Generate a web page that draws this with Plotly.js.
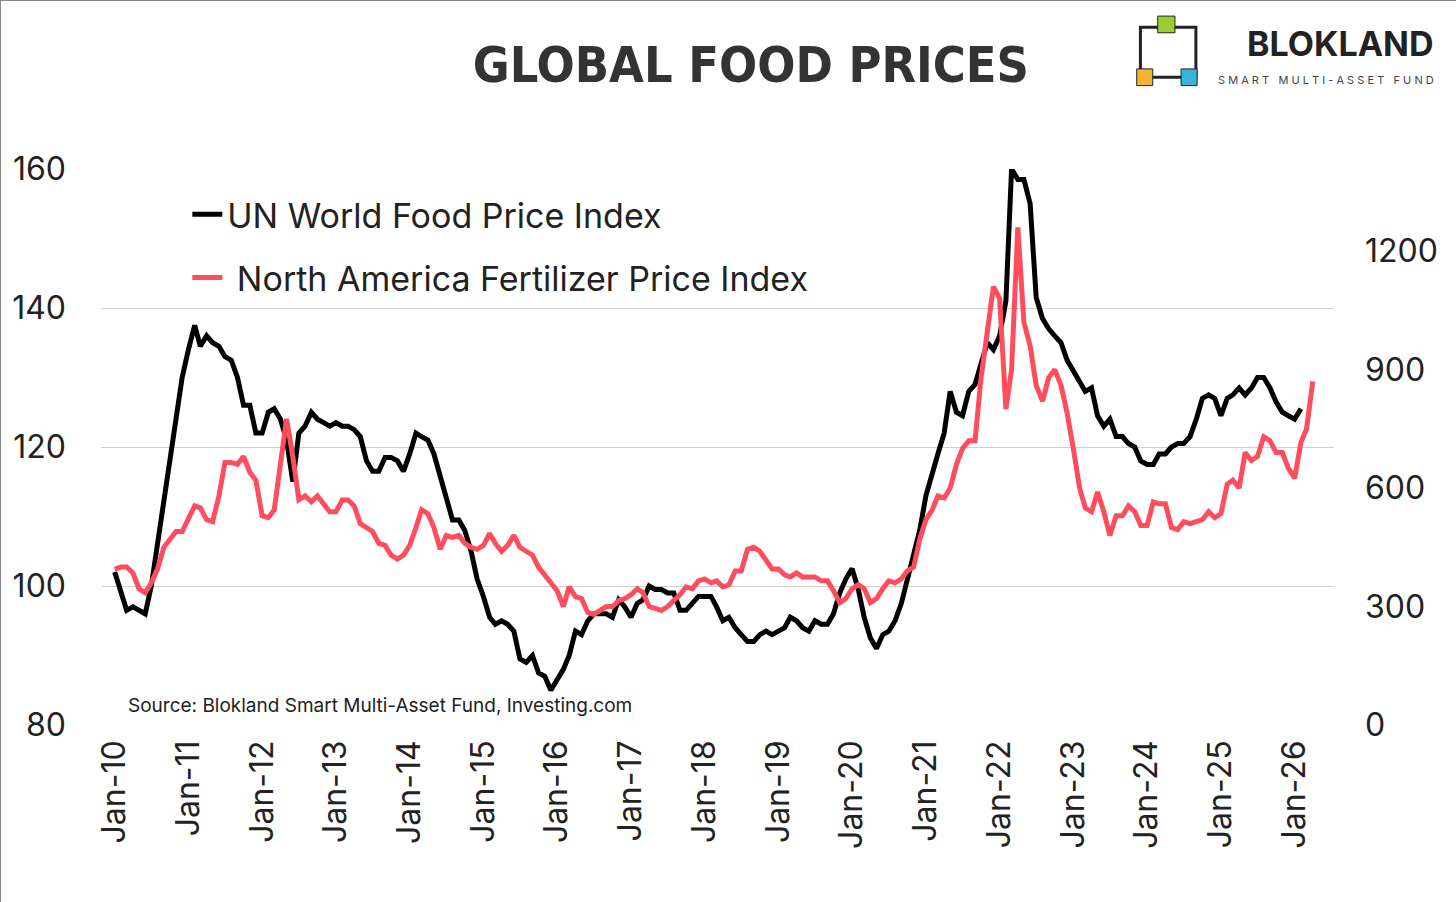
<!DOCTYPE html>
<html><head><meta charset="utf-8">
<script src="https://cdn.plot.ly/plotly-3.0.1.min.js"></script>
<style>body{margin:0;background:#fff}#c{width:1456px;height:902px;box-sizing:border-box;border:1px solid #888}</style>
</head><body><div id="c"></div>
<script>
const startYear = 2010;
const foodIndex = [
102,99,96.5,97,96.5,96,100,106,113,119,124,130,
134,137.5,134.5,136,135,134.5,133,132.5,130,126,126,122,
122,125,125.5,124,121,115,122,123,125,124,123.5,123,
123.5,123,123,122.5,121.5,118,116.5,116.5,118.5,118.5,118,116.5,
119,122,121.5,121,119,116,113,109.5,109.5,108,105,101,
98.5,95.5,94.5,95,94.5,93.5,89.5,89,90,87.5,87,85,
86.5,88,90,93.5,93,95,96,96,96,95.5,98,97,
95.5,97.5,98,100,99.5,99.5,99,99,96.5,96.5,97.5,98.5,
98.5,98.5,97,95,95.5,94,93,92,92,93,93.5,93,
93.5,94,95.5,95,94,93.5,95,94.5,94.5,96,99,101,
102.5,99.5,95.5,92.5,91,93,93.5,95,97.5,101,105,108,
113,116.5,119,122,128,125,124.5,128,129,132,135,134,
136,141,160,158.5,158.5,155,141.5,138.5,137,136,135,132.5,
131,129.5,128,128.5,124.5,123,124,121.5,121.5,120.5,120,118,
117.5,117.5,119,119,120,120.5,120.5,121.5,124,127,127.5,127,
124.5,127,127.5,128.5,127.5,128.5,130,130,128.5,126.5,125,124.5,
124,125.5];
const fertIndex = [
395,400,400,385,345,335,360,395,450,470,490,490,
520,555,550,520,515,580,665,665,660,680,640,620,
530,525,545,660,775,680,570,580,565,580,560,540,
540,570,570,555,510,500,490,460,455,430,420,430,
455,500,545,535,500,445,480,475,480,460,450,445,
455,485,460,440,455,480,450,440,430,400,380,360,
340,300,350,325,320,285,280,290,300,300,315,320,
330,345,335,300,295,290,300,315,330,350,345,365,
370,360,365,350,355,390,390,445,450,440,415,395,
395,380,375,385,375,375,375,365,365,340,310,320,
345,355,345,310,320,345,365,360,370,390,400,470,
520,545,580,575,600,660,700,720,720,880,1000,1110,
1080,800,900,1260,1020,960,860,820,880,900,860,790,
700,600,550,540,590,540,480,530,530,555,540,505,
505,565,560,560,500,495,515,510,515,520,540,525,
535,610,620,600,690,670,680,730,720,690,690,650,
625,715,750,870];
const leftTicks = [80,100,120,140,160];
const rightTicks = [0,300,600,900,1200];
function dates(n){const d=[];for(let i=0;i<n;i++){const y=startYear+Math.floor(i/12),m=i%12+1;d.push(y+'-'+String(m).padStart(2,'0')+'-01');}return d;}
const tf={family:'Inter',size:32,color:'#222'};
Plotly.newPlot('c',[
{x:dates(foodIndex.length),y:foodIndex,type:'scatter',mode:'lines',name:'UN World Food Price Index',legendgroup:'a',line:{color:'#000',width:5}},
{x:dates(fertIndex.length),y:fertIndex,type:'scatter',mode:'lines',name:' North America Fertilizer Price Index',legendgroup:'b',yaxis:'y2',line:{color:'#ff4d5e',width:5}}
],{
width:1456,height:902,margin:{l:100,r:123,t:168,b:178},
paper_bgcolor:'#fff',plot_bgcolor:'#fff',
title:{text:'GLOBAL FOOD PRICES',x:0.515,y:0.93,xanchor:'center',yanchor:'middle',font:{family:'DejaVu Sans Condensed',size:50,color:'#333',weight:'bold'}},
xaxis:{type:'date',range:['2009-10-25','2026-07-15'],tickvals:dates(17*12).filter((d,i)=>i%12===0),tickformat:'%b-%y',tickangle:-90,tickfont:tf,showgrid:false,zeroline:false,ticks:'',ticklabelstandoff:8},
yaxis:{range:[80,160],tickvals:leftTicks,tickfont:tf,gridcolor:'#d0d0d0',zeroline:false,ticklabelstandoff:34},
yaxis2:{range:[0,1408],tickvals:rightTicks,tickfont:tf,overlaying:'y',side:'right',showgrid:false,zeroline:false,ticklabelstandoff:30},
showlegend:true,
legend:{x:0.07,y:0.97,xanchor:'left',yanchor:'top',font:{family:'Inter',size:34,color:'#222'},bgcolor:'rgba(0,0,0,0)',itemwidth:30,tracegroupgap:16},
annotations:[
{text:'Source: Blokland Smart Multi-Asset Fund, Investing.com',xref:'paper',yref:'paper',x:0.02,y:0.01,xanchor:'left',yanchor:'bottom',showarrow:false,font:{family:'Inter',size:19,color:'#222'}},
{text:'<b>BLOKLAND</b>',xref:'paper',yref:'paper',x:1.083,y:1.225,xanchor:'right',yanchor:'middle',showarrow:false,font:{family:'Inter',size:34,color:'#222'}},
{text:'S M A R T   M U L T I - A S S E T   F U N D',xref:'paper',yref:'paper',x:1.083,y:1.16,xanchor:'right',yanchor:'middle',showarrow:false,font:{family:'Inter',size:11,color:'#444'}}
],
shapes:[
{type:'rect',xref:'paper',yref:'paper',x0:0.843,x1:0.888,y0:1.165,y1:1.255,line:{color:'#222',width:3}},
{type:'rect',xref:'paper',yref:'paper',x0:0.857,x1:0.871,y0:1.245,y1:1.275,fillcolor:'#9acd32',line:{color:'#222',width:1}},
{type:'rect',xref:'paper',yref:'paper',x0:0.840,x1:0.853,y0:1.15,y1:1.18,fillcolor:'#f2b632',line:{color:'#222',width:1}},
{type:'rect',xref:'paper',yref:'paper',x0:0.876,x1:0.889,y0:1.15,y1:1.18,fillcolor:'#3bb3d8',line:{color:'#222',width:1}}
]
},{staticPlot:true});
</script></body></html>
